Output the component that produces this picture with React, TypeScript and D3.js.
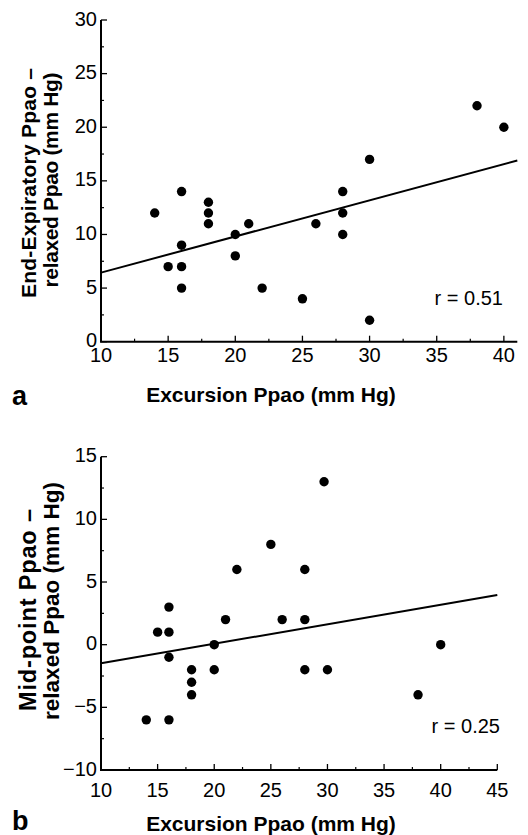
import * as d3 from 'd3'
import { useEffect, useRef } from 'react'

// panel a: excursion vs end-expiratory minus relaxed
const excursionA = [14, 15, 16, 16, 16, 16, 18, 18, 18, 20, 20, 21, 22, 25, 26, 28, 28, 28, 30, 30, 38, 40]
const endExpA = [12, 7, 14, 9, 7, 5, 13, 12, 11, 10, 8, 11, 5, 4, 11, 14, 12, 10, 17, 2, 22, 20]
const fitA = [[10, 6.44], [41, 16.9]]
const xTicksA = [10, 15, 20, 25, 30, 35, 40]
const yTicksA = [0, 5, 10, 15, 20, 25, 30]

// panel b: excursion vs mid-point minus relaxed
const excursionB = [14, 15, 16, 16, 16, 16, 18, 18, 18, 20, 20, 21, 22, 25, 26, 28, 28, 28, 29.7, 30, 38, 40]
const midPointB = [-6, 1, 3, 1, -1, -6, -2, -3, -4, 0, -2, 2, 6, 8, 2, 6, 2, -2, 13, -2, -4, 0]
const fitB = [[10, -1.49], [45, 3.97]]
const xTicksB = [10, 15, 20, 25, 30, 35, 40, 45]
const yTicksB = [-10, -5, 0, 5, 10, 15]

const FONT = "'Liberation Sans', Arial, Helvetica, sans-serif"

function drawPanel(svg, opt) {
  const { xs, ys, fit, xTicks, yTicks, x, y, rText, rX, rY, xLabY, yLab, letter, letterY, titleY } = opt
  const g = svg.append('g')

  // minor ticks every 2.5
  const xMinor = d3.range(x.domain()[0] + 2.5, x.domain()[1], 5)
  const yMinor = d3.range(y.domain()[0] + 2.5, y.domain()[1], 5)
  const x0 = x.range()[0], y0 = y.range()[0]

  g.selectAll('.xmaj').data(xTicks).enter().append('line')
    .attr('x1', d => x(d)).attr('x2', d => x(d))
    .attr('y1', y0).attr('y2', y0 - 6)
    .attr('stroke', '#000').attr('stroke-width', 1.3)
  g.selectAll('.xmin').data(xMinor).enter().append('line')
    .attr('x1', d => x(d)).attr('x2', d => x(d))
    .attr('y1', y0).attr('y2', y0 - 3)
    .attr('stroke', '#000').attr('stroke-width', 1.2)
  g.selectAll('.ymaj').data(yTicks).enter().append('line')
    .attr('x1', x0).attr('x2', x0 + 6)
    .attr('y1', d => y(d)).attr('y2', d => y(d))
    .attr('stroke', '#000').attr('stroke-width', 1.3)
  g.selectAll('.ymin').data(yMinor).enter().append('line')
    .attr('x1', x0).attr('x2', x0 + 3)
    .attr('y1', d => y(d)).attr('y2', d => y(d))
    .attr('stroke', '#000').attr('stroke-width', 1.2)

  // axis lines
  g.append('path')
    .attr('d', `M${x0},${y.range()[1]}V${y0}H${x.range()[1]}`)
    .attr('fill', 'none').attr('stroke', '#000').attr('stroke-width', 2)

  // tick labels
  g.selectAll('.xl').data(xTicks).enter().append('text')
    .attr('x', d => x(d)).attr('y', xLabY)
    .attr('text-anchor', 'middle')
    .attr('font-family', FONT).attr('font-size', 20)
    .text(d => d)
  g.selectAll('.yl').data(yTicks).enter().append('text')
    .attr('x', x0 - 4).attr('y', d => y(d) + 5.5)
    .attr('text-anchor', 'end')
    .attr('font-family', FONT).attr('font-size', 20)
    .text(d => (d < 0 ? '\u2212' + Math.abs(d) : d))

  // regression line
  g.append('path')
    .datum(fit)
    .attr('d', d3.line().x(d => x(d[0])).y(d => y(d[1])))
    .attr('fill', 'none').attr('stroke', '#000').attr('stroke-width', 2)

  // points
  g.selectAll('circle').data(xs).enter().append('circle')
    .attr('cx', d => x(d)).attr('cy', (d, i) => y(ys[i]))
    .attr('r', 4.7).attr('fill', '#000')

  g.append('text').attr('x', rX).attr('y', rY)
    .attr('text-anchor', 'end')
    .attr('font-family', FONT).attr('font-size', 20)
    .text(rText)

  g.append('text').attr('x', 271).attr('y', titleY)
    .attr('text-anchor', 'middle')
    .attr('font-family', FONT).attr('font-size', 21).attr('font-weight', 'bold')
    .text('Excursion Ppao (mm Hg)')

  g.append('text').attr('x', 12).attr('y', letterY)
    .attr('font-family', FONT).attr('font-size', 27).attr('font-weight', 'bold')
    .text(letter)

  // two-line rotated y title
  yLab.forEach(l => {
    const t = g.append('text')
      .attr('transform', `translate(${l.x},${l.c}) rotate(-90)`)
      .attr('text-anchor', 'middle')
      .attr('font-family', FONT).attr('font-size', l.size).attr('font-weight', 'bold')
      .text(l.text)
    if (l.len) t.attr('textLength', l.len)
  })
}

export default function App() {
  const ref = useRef(null)

  useEffect(() => {
    const svg = d3.select(ref.current)
    svg.selectAll('*').remove()

    drawPanel(svg, {
      xs: excursionA, ys: endExpA, fit: fitA, xTicks: xTicksA, yTicks: yTicksA,
      x: d3.scaleLinear().domain([10, 41]).range([101, 517.3]),
      y: d3.scaleLinear().domain([0, 30]).range([341.7, 20]),
      rText: 'r = 0.51', rX: 503, rY: 305, xLabY: 362,
      yLab: [
        { text: 'End-Expiratory Ppao \u2013', x: 36, c: 183, size: 21, len: 230 },
        { text: 'relaxed Ppao (mm Hg)', x: 58, c: 180, size: 21, len: 215 },
      ],
      letter: 'a', letterY: 405, titleY: 402,
    })

    drawPanel(svg, {
      xs: excursionB, ys: midPointB, fit: fitB, xTicks: xTicksB, yTicks: yTicksB,
      x: d3.scaleLinear().domain([10, 45]).range([101, 497.3]),
      y: d3.scaleLinear().domain([-10, 15]).range([770, 456.7]),
      rText: 'r = 0.25', rX: 500, rY: 733, xLabY: 797,
      yLab: [
        { text: 'Mid-point Ppao \u2013', x: 36, c: 610, size: 23.5, len: 202 },
        { text: 'relaxed Ppao (mm Hg)', x: 59, c: 601, size: 22.5, len: 238 },
      ],
      letter: 'b', letterY: 830, titleY: 831,
    })
  }, [])

  return (
    <svg ref={ref} width={528} height={835}
      style={{ position: 'absolute', left: 0, top: 0, background: '#fff' }} />
  )
}
